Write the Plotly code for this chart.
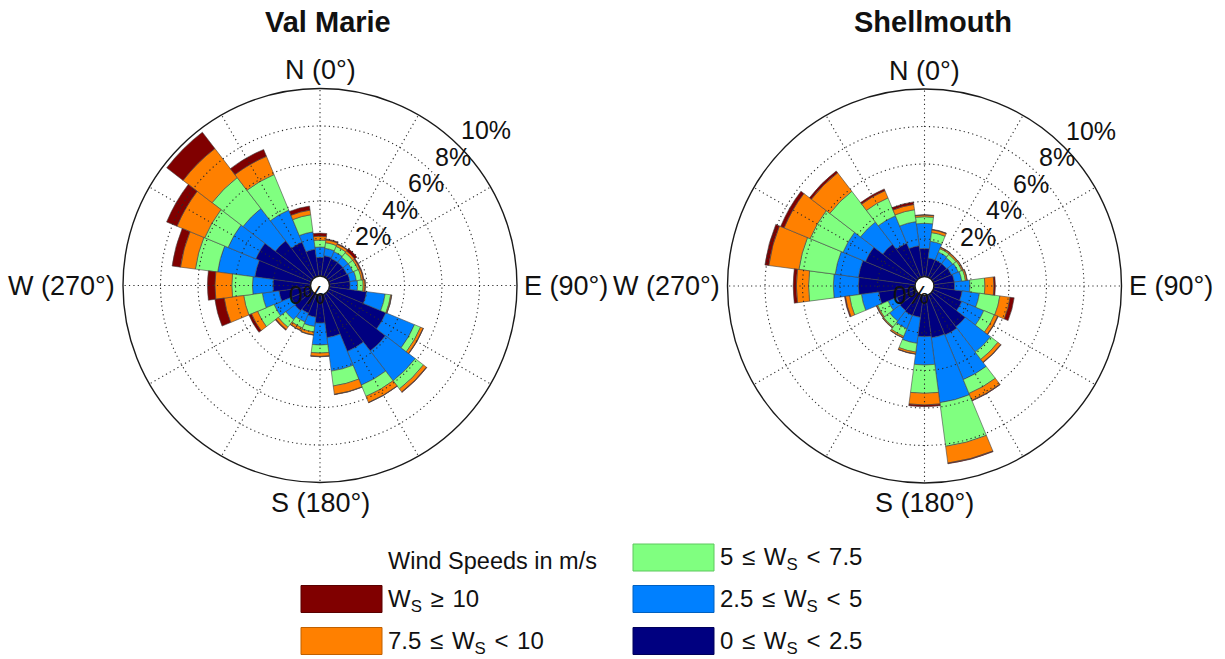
import math
import plotly.graph_objects as go

# ---------------------------------------------------------------- data
# Direction sectors (degrees clockwise from north), 15 degree bins
directions = [0, 15, 30, 45, 60, 75, 90, 105, 120, 135, 150, 165,
              180, 195, 210, 225, 240, 255, 270, 285, 300, 315, 330, 345]

speed_labels = ["0 ≤ W<sub>S</sub> &lt; 2.5",
                "2.5 ≤ W<sub>S</sub> &lt; 5",
                "5 ≤ W<sub>S</sub> &lt; 7.5",
                "7.5 ≤ W<sub>S</sub> &lt; 10",
                "W<sub>S</sub> ≥ 10"]
speed_colors = ["#000080", "#0080FF", "#80FF80", "#FF8000", "#800000"]
speed_edges = ["#00005a", "#0060c0", "#5fc85f", "#c06000", "#5a0000"]

# Frequency (%) of each speed bin per direction sector - Val Marie
vm_0_25 = [1.00, 1.10, 1.05, 1.05, 1.05, 1.10, 1.10, 2.00, 3.30, 3.90, 3.30, 2.30,
           1.50, 1.20, 1.10, 1.20, 1.15, 1.70, 2.00, 3.00, 3.20, 2.50, 2.00, 1.45]
vm_25_5 = [0.55, 0.40, 0.40, 0.35, 0.35, 0.35, 0.40, 1.00, 1.65, 2.00, 1.95, 1.80,
           1.17, 0.50, 0.50, 0.60, 1.00, 0.90, 1.10, 2.00, 1.60, 2.17, 1.85, 0.93]
vm_5_75 = [0.37, 0.30, 0.30, 0.30, 0.30, 0.27, 0.30, 0.30, 0.35, 0.55, 0.65, 0.80,
           0.43, 0.30, 0.35, 0.50, 0.95, 1.00, 1.10, 1.20, 1.35, 2.08, 2.05, 0.92]
vm_75_10 = [0.21, 0.15, 0.13, 0.12, 0.10, 0.10, 0.10, 0.05, 0.15, 0.20, 0.35, 0.45,
            0.18, 0.15, 0.15, 0.15, 0.35, 1.05, 0.90, 0.80, 1.60, 1.95, 1.05, 0.25]
vm_10_up = [0.16, 0.05, 0.04, 0.16, 0.05, 0.04, 0.02, 0.01, 0.02, 0.03, 0.02, 0.02,
            0.02, 0.02, 0.02, 0.05, 0.15, 0.50, 0.40, 0.45, 0.60, 1.10, 0.40, 0.22]

# Frequency (%) of each speed bin per direction sector - Shellmouth
sm_0_25 = [1.50, 1.00, 1.00, 1.00, 1.05, 1.10, 1.10, 1.52, 1.65, 2.24, 2.33, 2.28,
           2.20, 1.18, 1.20, 1.15, 1.10, 1.96, 3.02, 3.05, 2.90, 2.30, 1.97, 1.66]
sm_25_5 = [1.34, 0.90, 0.45, 0.40, 0.40, 0.40, 0.82, 0.93, 1.27, 1.70, 2.57, 3.49,
           1.51, 1.40, 0.76, 0.70, 0.50, 0.93, 1.34, 1.25, 1.30, 1.50, 1.58, 1.30]
sm_5_75 = [0.35, 0.47, 0.20, 0.22, 0.20, 0.20, 0.80, 1.10, 0.61, 0.49, 0.80, 2.35,
           1.51, 0.47, 0.44, 0.40, 0.60, 0.64, 1.32, 1.95, 1.90, 2.06, 1.03, 0.64]
sm_75_10 = [0.09, 0.15, 0.07, 0.08, 0.07, 0.08, 0.48, 0.55, 0.19, 0.19, 0.40, 0.90,
            0.62, 0.10, 0.08, 0.05, 0.06, 0.22, 0.65, 1.62, 1.50, 1.24, 0.42, 0.28]
sm_10_up = [0.02, 0.03, 0.02, 0.02, 0.02, 0.02, 0.08, 0.22, 0.03, 0.03, 0.03, 0.04,
            0.09, 0.02, 0.02, 0.02, 0.02, 0.05, 0.17, 0.21, 0.20, 0.13, 0.10, 0.14]

stations = ["Val Marie", "Shellmouth"]
station_bins = [
    [vm_0_25, vm_25_5, vm_5_75, vm_75_10, vm_10_up],
    [sm_0_25, sm_25_5, sm_5_75, sm_75_10, sm_10_up],
]

radial_ticks = [0, 2, 4, 6, 8, 10]
cardinals = [(0, "N (0°)"), (90, "E (90°)"), (180, "S (180°)"), (270, "W (270°)")]
legend_title = "Wind Speeds in m/s"

# ---------------------------------------------------------------- layout geometry
W, H = 1225, 659
R = 197.0                 # polar radius in px
HOLE = 0.048              # empty centre as a fraction of the radius
centers = [(320.0, 285.5), (924.5, 286.0)]
FONT = "Liberation Sans, Arial, Helvetica, sans-serif"
RMAX = radial_ticks[-1]


def paper(px, py):
    return px / W, 1 - py / H


def r_px(v):
    return R * HOLE + (R - R * HOLE) * v / RMAX


def polar_point(center, rad, bearing):
    cx, cy = center
    b = math.radians(bearing)
    return cx + rad * math.sin(b), cy - rad * math.cos(b)


fig = go.Figure()
annotations = []
shapes = []

for k, (name, bins) in enumerate(zip(stations, station_bins)):
    sub = "polar" if k == 0 else f"polar{k + 1}"
    # stacked speed bins
    for j, vals in enumerate(bins):
        fig.add_trace(go.Barpolar(
            r=vals, theta=directions, width=[15] * len(directions),
            name=speed_labels[j], subplot=sub, showlegend=False,
            marker=dict(color=speed_colors[j],
                        line=dict(color="rgba(70,70,70,0.85)", width=0.7)),
            hoverinfo="skip"))
    # dotted grid drawn over the bars
    circle_theta = list(range(0, 361, 2))
    for v in radial_ticks[1:-1]:
        fig.add_trace(go.Scatterpolar(
            r=[v] * len(circle_theta), theta=circle_theta, mode="lines",
            subplot=sub, showlegend=False, hoverinfo="skip",
            line=dict(color="#2a2a2a", width=1.1, dash="1.2px,3.2px")))
    for a in range(0, 360, 30):
        fig.add_trace(go.Scatterpolar(
            r=[0, RMAX], theta=[a, a], mode="lines",
            subplot=sub, showlegend=False, hoverinfo="skip",
            line=dict(color="#2a2a2a", width=1.1, dash="1.2px,3.2px")))

    cx, cy = centers[k]
    x0, y1 = paper(cx - R, cy - R)
    x1, y0 = paper(cx + R, cy + R)
    fig.update_layout(**{sub: dict(
        domain=dict(x=[x0, x1], y=[y0, y1]),
        hole=HOLE,
        barmode="stack",
        bgcolor="white",
        radialaxis=dict(range=[0, RMAX], visible=False, showgrid=False),
        angularaxis=dict(rotation=90, direction="clockwise",
                         showgrid=False, showticklabels=False, ticks="",
                         showline=True, linecolor="#1a1a1a", linewidth=1.4),
    )})

    # title
    tx, ty = paper(cx + 8, 22)
    annotations.append(dict(x=tx, y=ty, xref="paper", yref="paper",
                            text=f"<b>{name}</b>", showarrow=False,
                            xanchor="center", yanchor="middle",
                            font=dict(family=FONT, size=29, color="#111")))

    # cardinal labels
    for bearing, label in cardinals:
        gap = {0: 1, 90: 5, 180: 3, 270: 6}[bearing]
        px, py = polar_point(centers[k], R + gap, bearing)
        xa = {0: "center", 90: "left", 180: "center", 270: "right"}[bearing]
        ya = {0: "bottom", 90: "middle", 180: "top", 270: "middle"}[bearing]
        ax, ay = paper(px, py)
        annotations.append(dict(x=ax, y=ay, xref="paper", yref="paper",
                                text=label, showarrow=False,
                                xanchor=xa, yanchor=ya,
                                font=dict(family=FONT, size=27, color="#111")))

    # radial (frequency) labels along the 45 degree line
    for v in radial_ticks:
        px, py = polar_point(centers[k], r_px(v), 45)
        ax, ay = paper(px, py)
        if v == 0:
            xa, ya = "right", "top"
        else:
            xa, ya = "left", "bottom"
        annotations.append(dict(x=ax, y=ay, xref="paper", yref="paper",
                                text=f"{v}%", showarrow=False,
                                xanchor=xa, yanchor=ya,
                                font=dict(family=FONT, size=25, color="#111")))

# ---------------------------------------------------------------- legend
# (column x of swatch, row y-centre) for each speed bin, from slowest up
legend_slots = [(633, 641), (633, 599), (633, 557.5), (301, 641), (301, 599)]
SW_W, SW_H = 81, 27
for j, (sx, sy) in enumerate(legend_slots):
    a0, b1 = paper(sx, sy - SW_H / 2)
    a1, b0 = paper(sx + SW_W, sy + SW_H / 2)
    shapes.append(dict(type="rect", xref="paper", yref="paper",
                       x0=a0, x1=a1, y0=b0, y1=b1,
                       fillcolor=speed_colors[j],
                       line=dict(color=speed_edges[j], width=1)))
    lx, ly = paper(sx + SW_W + 4, sy + 1)
    annotations.append(dict(x=lx, y=ly, xref="paper", yref="paper",
                            text=speed_labels[j].replace(" ", "\u200a "),
                            showarrow=False,
                            xanchor="left", yanchor="middle",
                            font=dict(family=FONT, size=24, color="#111")))

lx, ly = paper(386, 561)
annotations.append(dict(x=lx, y=ly, xref="paper", yref="paper",
                        text=legend_title, showarrow=False,
                        xanchor="left", yanchor="middle",
                        font=dict(family=FONT, size=23.5, color="#111")))

fig.update_layout(
    width=W, height=H,
    margin=dict(l=0, r=0, t=0, b=0),
    paper_bgcolor="white",
    plot_bgcolor="white",
    showlegend=False,
    annotations=annotations,
    shapes=shapes,
)

fig.write_html("out.html")
